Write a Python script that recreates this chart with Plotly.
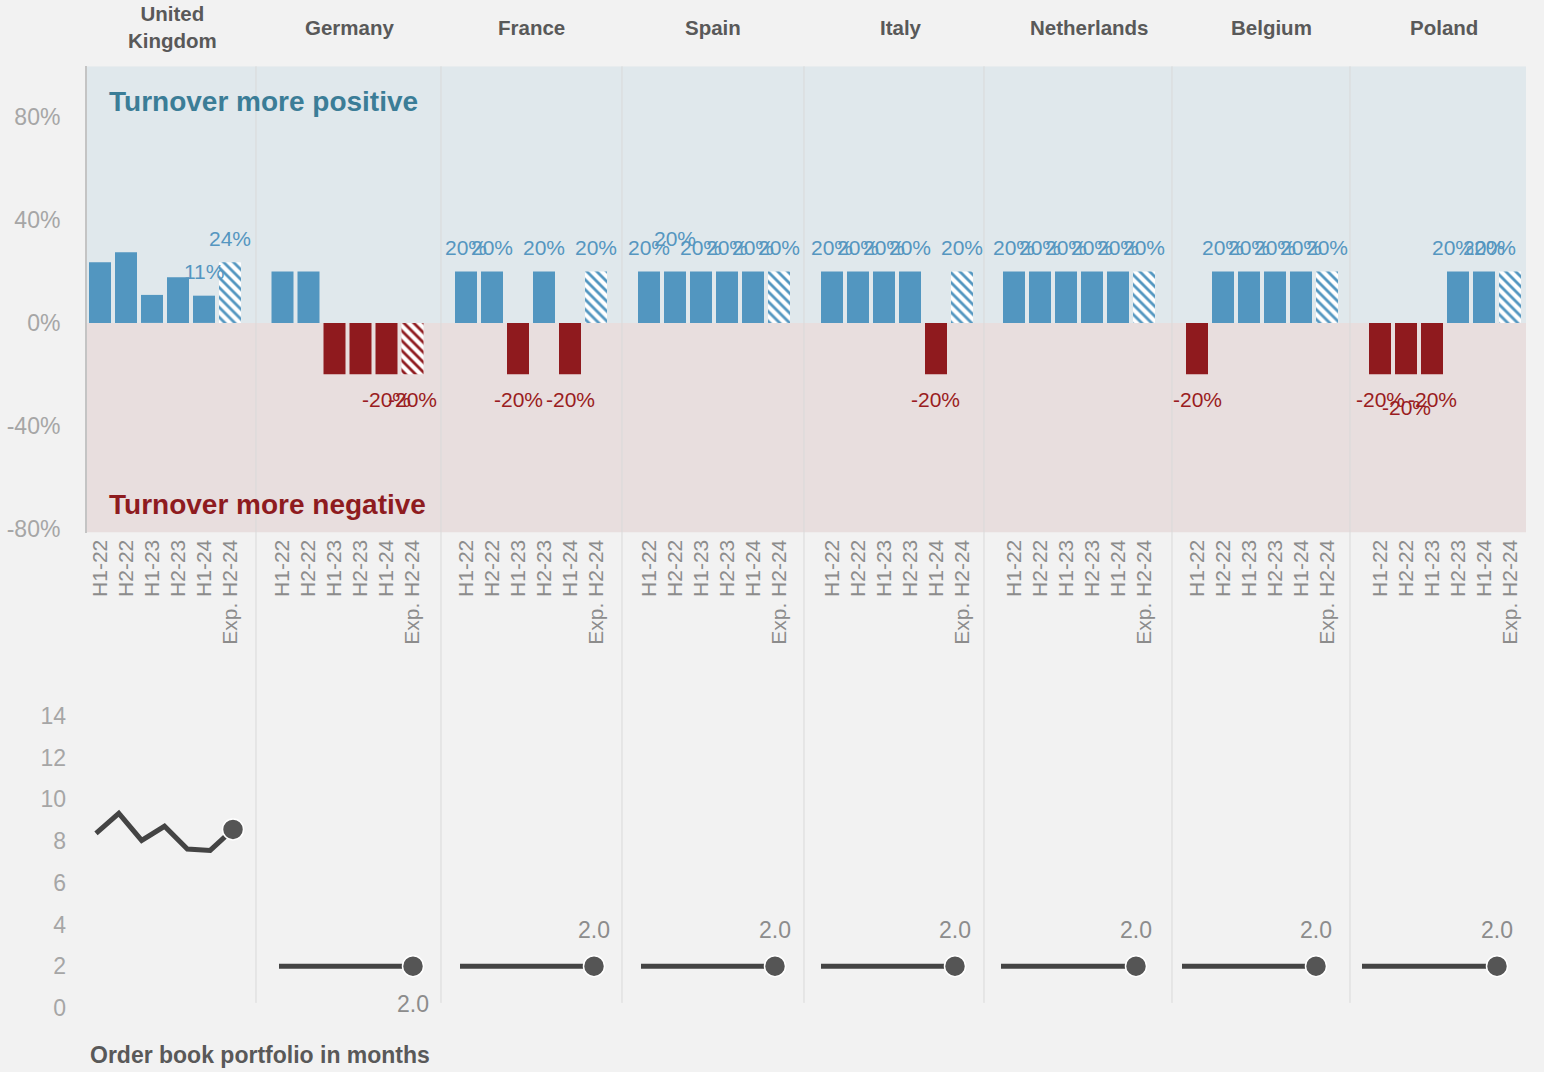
import plotly.graph_objects as go

# ---------------- data ----------------
countries = ["United Kingdom", "Germany", "France", "Spain", "Italy",
             "Netherlands", "Belgium", "Poland"]
headers = ["United<br>Kingdom", "Germany", "France", "Spain", "Italy",
           "Netherlands", "Belgium", "Poland"]
periods = ["H1-22", "H2-22", "H1-23", "H2-23", "H1-24", "Exp. H2-24"]

turnover_uk = [23.6, 27.5, 10.9, 17.8, 10.6, 23.6]
turnover_de = [20, 20, -20, -20, -20, -20]
turnover_fr = [20, 20, -20, 20, -20, 20]
turnover_es = [20, 20, 20, 20, 20, 20]
turnover_it = [20, 20, 20, 20, -20, 20]
turnover_nl = [20, 20, 20, 20, 20, 20]
turnover_be = [-20, 20, 20, 20, 20, 20]
turnover_pl = [-20, -20, -20, 20, 20, 20]

labels_uk = ["", "", "", "", "11%", "24%"]
labels_de = ["", "", "", "", "-20%", "-20%"]
labels_fr = ["20%", "20%", "-20%", "20%", "-20%", "20%"]
labels_es = ["20%", "20%", "20%", "20%", "20%", "20%"]
labels_it = ["20%", "20%", "20%", "20%", "-20%", "20%"]
labels_nl = ["20%", "20%", "20%", "20%", "20%", "20%"]
labels_be = ["-20%", "20%", "20%", "20%", "20%", "20%"]
labels_pl = ["-20%", "-20%", "-20%", "20%", "20%", "20%"]

orderbook_uk = [8.37, 9.33, 8.03, 8.71, 7.62, 7.55, 8.56]
orderbook_de = [2.0, 2.0, 2.0, 2.0, 2.0, 2.0, 2.0]
orderbook_fr = [2.0, 2.0, 2.0, 2.0, 2.0, 2.0, 2.0]
orderbook_es = [2.0, 2.0, 2.0, 2.0, 2.0, 2.0, 2.0]
orderbook_it = [2.0, 2.0, 2.0, 2.0, 2.0, 2.0, 2.0]
orderbook_nl = [2.0, 2.0, 2.0, 2.0, 2.0, 2.0, 2.0]
orderbook_be = [2.0, 2.0, 2.0, 2.0, 2.0, 2.0, 2.0]
orderbook_pl = [2.0, 2.0, 2.0, 2.0, 2.0, 2.0, 2.0]

orderbook_labels = ["", "2.0", "2.0", "2.0", "2.0", "2.0", "2.0", "2.0"]

y_ticks = [-80, -40, 0, 40, 80]
y_tick_text = ["-80%", "-40%", "0%", "40%", "80%"]
ob_ticks = [0, 2, 4, 6, 8, 10, 12, 14]

turnover = [turnover_uk, turnover_de, turnover_fr, turnover_es,
            turnover_it, turnover_nl, turnover_be, turnover_pl]
bar_labels = [labels_uk, labels_de, labels_fr, labels_es,
              labels_it, labels_nl, labels_be, labels_pl]
orderbook = [orderbook_uk, orderbook_de, orderbook_fr, orderbook_es,
             orderbook_it, orderbook_nl, orderbook_be, orderbook_pl]

# ---------------- layout geometry (pixels) ----------------
W, H = 1544, 1072
H_EFF = 1056   # effective vertical extent observed in the rendered page
FONT = "Liberation Sans, Arial, sans-serif"
BLUE = "#5296C0"
RED = "#8F1A1E"
BLUE_TXT = "#5596C0"
RED_TXT = "#9A1C21"

col_edges = [87, 256, 441, 622, 804, 984, 1172, 1350, 1526]
header_x = [172, 349, 531, 713, 901, 1089, 1271, 1444]
bar_first = [13, 26.5, 25, 27, 28, 30, 25, 30]      # first bar centre offset
bar_pitch = 26.0
line_first = [9, 23, 19, 19, 17, 17, 10, 12]         # first point offset
line_last = [146, 157, 153, 153, 151, 152, 144, 147]  # last point offset

top_px, bot_px = 66, 531
zero_px, px_per = 322, 102.5 / 40
y_top = (zero_px - top_px) / px_per
y_bot = -(bot_px - zero_px) / px_per

lb_top_px, lb_bot_px = 688, 1005
lb_px_per = 20.79
lb_top = (lb_bot_px - lb_top_px) / lb_px_per


def xp(px):
    return px / W


def yp(py):
    return 1 - py / H_EFF


fig = go.Figure()
layout = dict(
    width=W, height=H, autosize=False,
    margin=dict(l=0, r=0, t=0, b=0),
    paper_bgcolor="#F2F2F2", plot_bgcolor="rgba(0,0,0,0)",
    showlegend=False, barmode="overlay", bargap=4 / 26,
    font=dict(family=FONT),
)

shapes = []
annotations = []

# backgrounds of the top panel
shapes.append(dict(type="rect", xref="paper", yref="y", x0=xp(87), x1=xp(1526),
                   y0=0, y1=y_top, fillcolor="#E0E8EC", line_width=0, layer="below"))
shapes.append(dict(type="rect", xref="paper", yref="y", x0=xp(87), x1=xp(1526),
                   y0=y_bot, y1=0, fillcolor="#E8DEDE", line_width=0, layer="below"))
# column separators
for e in col_edges[1:-1]:
    shapes.append(dict(type="line", xref="paper", yref="paper", x0=xp(e), x1=xp(e),
                       y0=yp(66), y1=yp(1000), line=dict(color="#D9D9D9", width=1),
                       layer="below"))

for i in range(8):
    left, right = col_edges[i], col_edges[i + 1]
    w = right - left
    xt = f"x{i + 1}" if i > 0 else "x"
    xb = f"x{i + 9}"
    vals = turnover[i]
    cols = [BLUE if v >= 0 else RED for v in vals]

    # actual bars
    fig.add_trace(go.Bar(x=periods[:-1], y=vals[:-1], marker=dict(color=cols[:-1], line_width=0),
                         xaxis=xt, yaxis="y", hoverinfo="x+y"))
    # expected bar (hatched)
    fig.add_trace(go.Bar(x=periods[-1:], y=vals[-1:],
                         marker=dict(color="white", line_width=0,
                                     pattern=dict(shape="\\", fgcolor=cols[-1], bgcolor="white",
                                                  size=7, solidity=0.4, fillmode="replace")),
                         xaxis=xt, yaxis="y", hoverinfo="x+y"))

    r0 = -bar_first[i] / bar_pitch
    layout[f"xaxis{i + 1}" if i > 0 else "xaxis"] = dict(
        domain=[xp(left), xp(right)], anchor="y", type="category",
        categoryorder="array", categoryarray=periods,
        range=[r0, r0 + w / bar_pitch],
        showgrid=False, zeroline=False, showline=False, ticks="",
        tickangle=-90, tickfont=dict(size=21, color="#8C8C8C", family=FONT),
        ticklabelstandoff=2, fixedrange=True,
    )

    # bar labels
    for j, (v, lab) in enumerate(zip(vals, bar_labels[i])):
        if not lab:
            continue
        shift = 24 if v >= 0 else -25
        xshift = 0
        if (i, j) == (3, 1):
            shift += 9
        if (i, j) == (7, 1):
            shift -= 8
        if (i, j) == (7, 5):
            xshift = -15
        if (i, j) == (7, 3):
            xshift = -5
        annotations.append(dict(xref=xt, yref="y", x=periods[j], y=v, yshift=shift,
                                xshift=xshift, text=lab, showarrow=False,
                                font=dict(size=21, color=BLUE_TXT if v >= 0 else RED_TXT, family=FONT)))

    # order book line
    ob = orderbook[i]
    n = len(ob)
    xs = list(range(n))
    pitch = (line_last[i] - line_first[i]) / (n - 1)
    fig.add_trace(go.Scatter(x=xs, y=ob, mode="lines",
                             line=dict(color="#444444", width=5),
                             xaxis=xb, yaxis="y2", hoverinfo="y"))
    fig.add_trace(go.Scatter(x=xs[-1:], y=ob[-1:], mode="markers",
                             marker=dict(size=21, color="#555555", line=dict(color="white", width=1.5)),
                             xaxis=xb, yaxis="y2", hoverinfo="y"))
    lr0 = -line_first[i] / pitch
    layout[f"xaxis{i + 9}"] = dict(
        domain=[xp(left), xp(right)], anchor="y2",
        range=[lr0, lr0 + w / pitch], visible=False, fixedrange=True,
    )
    if orderbook_labels[i]:
        below = countries[i] == "Germany"
        annotations.append(dict(xref=xb, yref="y2", x=xs[-1], y=ob[-1],
                                yshift=-38 if below else 36,
                                text=orderbook_labels[i], showarrow=False,
                                font=dict(size=23, color="#8C8C8C", family=FONT)))

    # header
    annotations.append(dict(xref="paper", yref="paper", x=xp(header_x[i]), y=yp(27),
                            text=f"<b>{headers[i]}</b>", showarrow=False,
                            xanchor="center", yanchor="middle",
                            font=dict(size=20.5, color="#595959", family=FONT)))

layout["yaxis"] = dict(
    domain=[yp(bot_px), yp(top_px)], anchor="x", range=[y_bot, y_top],
    tickmode="array", tickvals=y_ticks, ticktext=y_tick_text,
    showgrid=False, zeroline=False, showline=True, linecolor="#C4C4C4", linewidth=2,
    ticks="", tickfont=dict(size=23, color="#A6A6A6", family=FONT),
    ticklabelstandoff=20, fixedrange=True,
)
layout["yaxis2"] = dict(
    domain=[yp(lb_bot_px), yp(lb_top_px)], anchor="x9", range=[0, lb_top],
    tickmode="array", tickvals=ob_ticks, ticktext=[str(t) for t in ob_ticks],
    showgrid=False, zeroline=False, showline=False,
    ticks="", tickfont=dict(size=23, color="#A6A6A6", family=FONT),
    ticklabelstandoff=20, fixedrange=True,
)

annotations.append(dict(xref="paper", yref="paper", x=xp(107), y=yp(101),
                        text="<b>Turnover more positive</b>", showarrow=False,
                        xanchor="left", yanchor="middle",
                        font=dict(size=28, color="#3B7D97", family=FONT)))
annotations.append(dict(xref="paper", yref="paper", x=xp(107), y=yp(503),
                        text="<b>Turnover more negative</b>", showarrow=False,
                        xanchor="left", yanchor="middle",
                        font=dict(size=28, color="#8E1B1F", family=FONT)))
annotations.append(dict(xref="paper", yref="paper", x=xp(88), y=yp(1052),
                        text="<b>Order book portfolio in months</b>", showarrow=False,
                        xanchor="left", yanchor="middle",
                        font=dict(size=23, color="#595959", family=FONT)))

layout["shapes"] = shapes
layout["annotations"] = annotations
fig.update_layout(**layout)

post = ("var de=document.documentElement;"
        "de.style.margin='0';de.style.padding='0';de.style.overflow='hidden';"
        "de.style.height='%dpx';de.style.background='#F2F2F2';"
        "document.body.style.margin='0';document.body.style.padding='0';"
        "document.body.style.overflow='hidden';document.body.style.height='%dpx';"
        "var gd=document.getElementById('{plot_id}');"
        "gd.style.position='fixed';gd.style.left='0px';gd.style.top='0px';"
        "gd.style.width='%dpx';gd.style.height='%dpx';"
        "Plotly.relayout(gd,{width:%d,height:%d});" % (H, H, W, H, W, H))
fig.write_html("out.html", config={"responsive": False, "displayModeBar": False},
               post_script=post)
